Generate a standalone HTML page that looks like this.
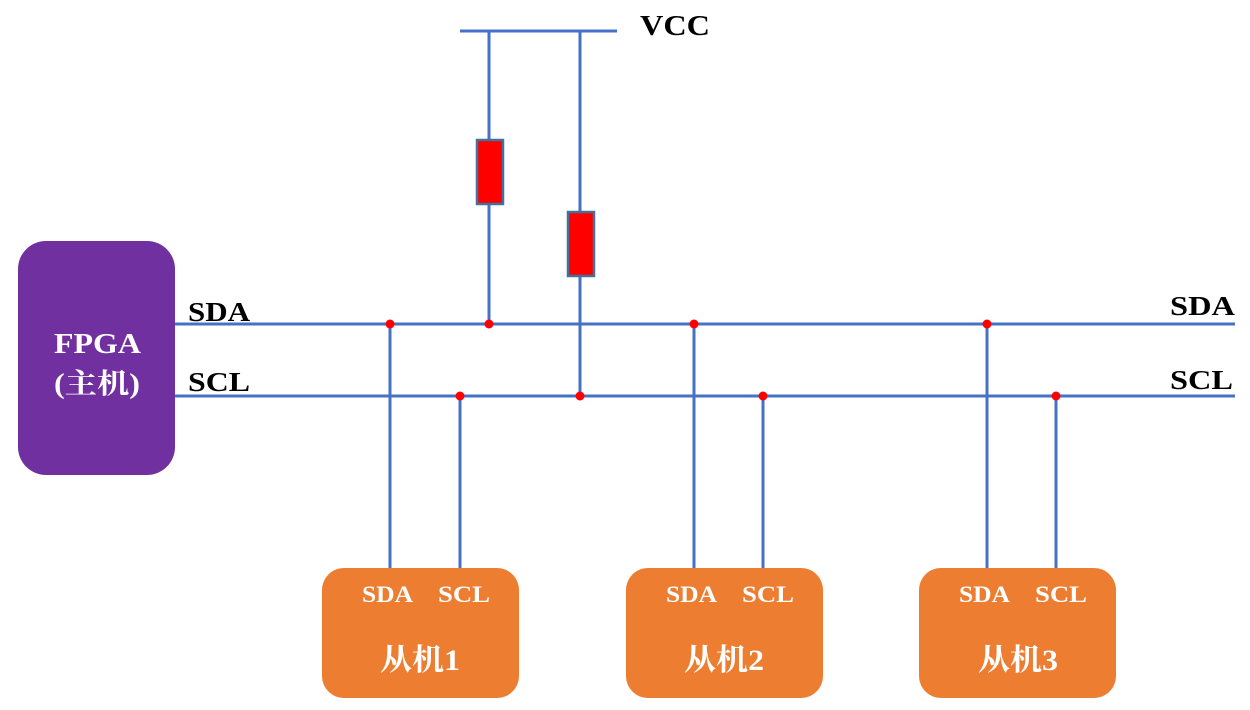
<!DOCTYPE html>
<html><head><meta charset="utf-8"><style>
html,body{margin:0;padding:0;background:#fff;width:1250px;height:710px;overflow:hidden}
text{font-family:"Liberation Serif","Noto Serif CJK SC","Noto Sans CJK SC",serif;font-weight:bold}
</style></head><body>
<svg width="1250" height="710" viewBox="0 0 1250 710" xmlns="http://www.w3.org/2000/svg">
<g stroke="#4472c4" stroke-width="3" fill="none">
<line x1="460" y1="31" x2="617" y2="31"/>
<line x1="489" y1="31" x2="489" y2="324"/>
<line x1="580" y1="31" x2="580" y2="396"/>
<line x1="175" y1="324" x2="1235" y2="324"/>
<line x1="175" y1="396" x2="1235" y2="396"/>
<line x1="390" y1="324" x2="390" y2="570"/>
<line x1="460" y1="396" x2="460" y2="570"/>
<line x1="694" y1="324" x2="694" y2="570"/>
<line x1="763" y1="396" x2="763" y2="570"/>
<line x1="987" y1="324" x2="987" y2="570"/>
<line x1="1056" y1="396" x2="1056" y2="570"/>
</g>
<rect x="477" y="140" width="26" height="64" fill="#ff0000" stroke="#41719c" stroke-width="2.5"/>
<rect x="568" y="212" width="26" height="64" fill="#ff0000" stroke="#41719c" stroke-width="2.5"/>
<g fill="#ff0000">
<circle cx="390" cy="324" r="4.5"/><circle cx="489" cy="324" r="4.5"/><circle cx="694" cy="324" r="4.5"/><circle cx="987" cy="324" r="4.5"/>
<circle cx="460" cy="396" r="4.5"/><circle cx="580" cy="396" r="4.5"/><circle cx="763" cy="396" r="4.5"/><circle cx="1056" cy="396" r="4.5"/>
</g>
<rect x="18" y="241" width="157" height="234" rx="28" fill="#7030a0"/>
<text x="54" y="353" fill="#fff" font-size="28" textLength="87" lengthAdjust="spacingAndGlyphs">FPGA</text>
<text x="54" y="393" fill="#fff" font-size="28" textLength="86" lengthAdjust="spacingAndGlyphs">(主机)</text>
<text x="640" y="35" font-size="28" fill="#000" textLength="70" lengthAdjust="spacingAndGlyphs">VCC</text>
<text x="188" y="321" font-size="27" fill="#000" textLength="62" lengthAdjust="spacingAndGlyphs">SDA</text>
<text x="188" y="391" font-size="27" fill="#000" textLength="62" lengthAdjust="spacingAndGlyphs">SCL</text>
<text x="1170" y="315" font-size="27" fill="#000" textLength="65" lengthAdjust="spacingAndGlyphs">SDA</text>
<text x="1170" y="389" font-size="27" fill="#000" textLength="63" lengthAdjust="spacingAndGlyphs">SCL</text>
<g fill="#ed7d31">
<rect x="322" y="568" width="197" height="130" rx="22"/>
<rect x="626" y="568" width="197" height="130" rx="22"/>
<rect x="919" y="568" width="197" height="130" rx="22"/>
</g>
<g fill="#fff" font-size="23">
<text x="362" y="602" textLength="51" lengthAdjust="spacingAndGlyphs">SDA</text><text x="438" y="602" textLength="52" lengthAdjust="spacingAndGlyphs">SCL</text>
<text x="666" y="602" textLength="51" lengthAdjust="spacingAndGlyphs">SDA</text><text x="742" y="602" textLength="52" lengthAdjust="spacingAndGlyphs">SCL</text>
<text x="959" y="602" textLength="51" lengthAdjust="spacingAndGlyphs">SDA</text><text x="1035" y="602" textLength="52" lengthAdjust="spacingAndGlyphs">SCL</text>
</g>
<g fill="#fff" font-size="30">
<text x="380" y="670" textLength="80" lengthAdjust="spacingAndGlyphs">从机1</text>
<text x="684" y="670" textLength="80" lengthAdjust="spacingAndGlyphs">从机2</text>
<text x="978" y="670" textLength="80" lengthAdjust="spacingAndGlyphs">从机3</text>
</g>
</svg>
</body></html>
